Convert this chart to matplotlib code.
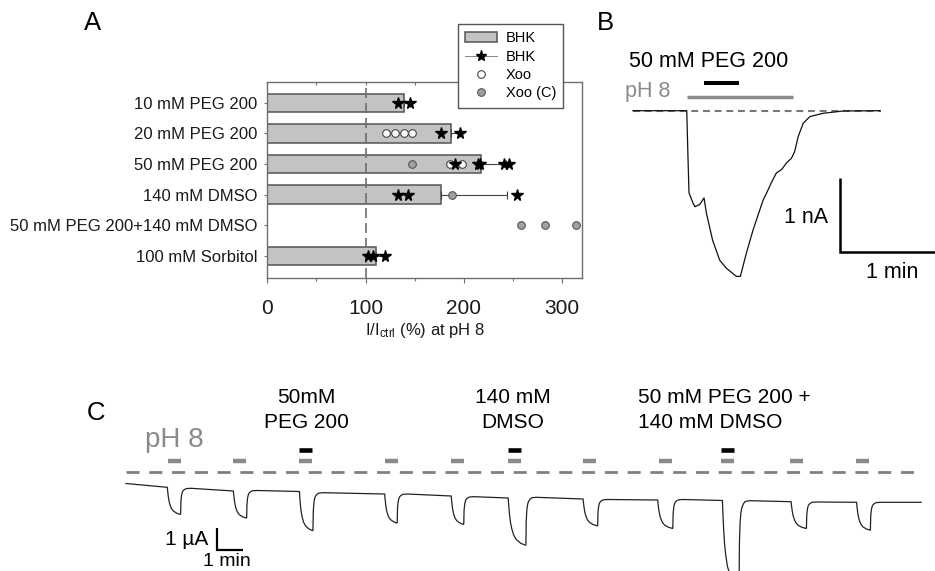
import numpy as np
import matplotlib.pyplot as plt
from matplotlib.lines import Line2D
from matplotlib.patches import Patch

plt.rcParams['font.family'] = ['Liberation Sans', 'DejaVu Sans']
plt.rcParams['mathtext.default'] = 'regular'

W, H = 935, 571  # figure size in pixels (dpi 100)

# ---------------- panel A data ----------------
conditions = ['10 mM PEG 200', '20 mM PEG 200', '50 mM PEG 200', '140 mM DMSO',
              '50 mM PEG 200+140 mM DMSO', '100 mM Sorbitol']
bhk_mean = [139, 186.5, 217.5, 176.5, None, 110.5]
bhk_err = [6, 10, 25, 67, None, 9]
bhk_pts = [[133.3, 145.2], [176.7, 196.0], [191.3, 214.0, 216.5, 240.8, 245.5],
           [133.3, 143.5, 253.7], [], [102.8, 107.9, 119.7]]
xoo_pts = [[], [120.7, 130.0, 139.0, 146.9], [185.9, 197.8], [], [], []]
xoo_c_pts = [[], [], [146.9], [187.6], [258.1, 282.5, 314.7], []]

# ---------------- panel B data (time s, current nA) ----------------
b_time = [0, 33.6, 34.4, 35.0, 37.5, 38.7, 41.7, 44.4, 45.9, 49.8, 54.2, 58.4, 64.6,
          67.1, 70.9, 75.0, 81.3, 84.0, 86.5, 89.6, 93.0, 96.0, 99.0, 101.0, 103.3,
          106.4, 110.6, 118.9, 131.4, 154.4]
b_current = [0, 0, -0.67, -1.12, -1.26, -1.31, -1.28, -1.19, -1.40, -1.77, -2.04, -2.15,
             -2.26, -2.26, -1.94, -1.63, -1.22, -1.10, -0.98, -0.85, -0.80, -0.71,
             -0.65, -0.56, -0.35, -0.17, -0.08, -0.035, -0.004, 0]
b_peg = (44.4, 66.4)
b_ph = (33.6, 99.8)

# ---------------- panel C data (time min, current uA) ----------------
c_ph_on = [1.61, 4.13, 6.67, 9.95, 12.51, 14.70, 17.58, 20.49, 22.89, 25.54, 28.08]
c_drug_idx = [2, 5, 8]
c_on = [1.59, 4.13, 6.67, 9.95, 12.51, 14.70, 17.58, 20.45, 22.94, 25.58, 28.10]
c_off = [2.10, 4.64, 7.19, 10.43, 12.99, 15.38, 18.14, 21.03, 23.58, 26.17, 28.63]
c_peak = [-1.96, -2.13, -2.71, -2.36, -2.42, -3.38, -2.49, -2.61, -5.22, -2.61, -2.69]
c_base_before = [-0.719, -0.889, -0.912, -1.028, -1.12, -1.212, -1.258, -1.304, -1.327,
                 -1.382, -1.41]
c_base_after = [-0.765, -0.866, -0.968, -1.028, -1.152, -1.18, -1.281, -1.281, -1.336,
                -1.396, -1.41]
c_start = (0.0, -0.544)
c_end = (30.58, -1.41)
# pulse shape read from the first pulse: (fraction of pulse, fraction of depth)
onset_shape = [(0.02, 0.12), (0.075, 0.35), (0.13, 0.52), (0.2, 0.65), (0.3, 0.78),
               (0.45, 0.88), (0.7, 0.96), (0.95, 1.0), (1.0, 1.0)]
# recovery after wash: (min after offset, fraction of depth)
recovery_shape = [(0.0, 1.0), (0.013, 0.5), (0.038, 0.26), (0.07, 0.14), (0.1, 0.09),
                  (0.16, 0.04), (0.23, 0.01), (0.4, 0.0)]
c_labels = [(['50mM', 'PEG 200'], 6.95, 'center'),
            (['140 mM', 'DMSO'], 14.88, 'center'),
            (['50 mM PEG 200 +', '140 mM DMSO'], 19.7, 'left')]

bar_face = '#c3c3c3'
bar_edge = '#555555'
grey = '#8a8a8a'

fig = plt.figure(figsize=(W / 100, H / 100), dpi=100)


def box(l, t, r, b):
    return [l / W, 1 - b / H, (r - l) / W, (b - t) / H]


# ================= A =================
ax = fig.add_axes(box(267.3, 81.7, 581.7, 278.3))
ax.set_xlim(0, 320)
ax.set_ylim(5.727, -0.685)
rows = np.arange(len(conditions))
for i in rows:
    if bhk_mean[i] is None:
        continue
    ax.barh(i, bhk_mean[i], height=0.6, color=bar_face, edgecolor=bar_edge, lw=1.1, zorder=2)
    ax.errorbar(bhk_mean[i], i, xerr=[[0], [bhk_err[i]]], fmt='none', ecolor='#444444',
                elinewidth=0.8, capsize=3, capthick=0.8, zorder=3)
ax.axvline(100, color='#6e6e6e', lw=1.2, ls=(0, (6, 3)), zorder=2.5)
for i in rows:
    if xoo_pts[i]:
        ax.plot(xoo_pts[i], [i] * len(xoo_pts[i]), 'o', ms=5.5, mfc='white', mec='#444444',
                mew=0.8, zorder=4)
    if xoo_c_pts[i]:
        ax.plot(xoo_c_pts[i], [i] * len(xoo_c_pts[i]), 'o', ms=5.5, mfc='#a0a0a0',
                mec='#555555', mew=0.8, zorder=4)
    if bhk_pts[i]:
        ax.plot(bhk_pts[i], [i] * len(bhk_pts[i]), '*', ms=8.5, color='black', zorder=5)

ax.set_yticks(rows)
ax.set_yticklabels(conditions, fontsize=12, color='#1a1a1a')
ax.set_xticks([0, 100, 200, 300])
ax.set_xticks([50, 150, 250], minor=True)
ax.tick_params(axis='x', which='major', length=3.6, width=0.8, color='#6e6e6e',
               labelsize=15, pad=11, labelcolor='#1a1a1a')
ax.tick_params(axis='x', which='minor', length=1.8, width=0.8, color='#6e6e6e')
ax.tick_params(axis='y', length=2, width=0.8, color='#6e6e6e', pad=5)
for s in ax.spines.values():
    s.set_color('#6e6e6e')
    s.set_linewidth(1.0)
top = ax.secondary_xaxis('top')
top.set_xticks([0, 50, 100, 150, 200, 250, 300])
top.tick_params(direction='in', length=2, width=0.8, color='#6e6e6e', labeltop=False)
top.spines['top'].set_visible(False)
fig.text(425 / W, 1 - 331 / H, r'I/I$_{ctrl}$ (%) at pH 8', fontsize=12,
         ha='center', va='center', color='#1a1a1a')

handles = [Patch(facecolor=bar_face, edgecolor=bar_edge, lw=1.1),
           Line2D([], [], color='#888888', lw=0.7, marker='*', ms=8, mfc='black', mec='black'),
           Line2D([], [], ls='none', marker='o', ms=5.5, mfc='white', mec='#444444', mew=0.8),
           Line2D([], [], ls='none', marker='o', ms=5.5, mfc='#a0a0a0', mec='#555555', mew=0.8)]
leg = ax.legend(handles, ['BHK', 'BHK', 'Xoo', 'Xoo (C)'], loc='upper left',
                bbox_to_anchor=(457.7 / W, 1 - 24 / H), bbox_transform=fig.transFigure,
                fontsize=10.5, frameon=True, fancybox=False, framealpha=1, edgecolor='#555555',
                borderaxespad=0, handlelength=2.2, handletextpad=0.6, labelspacing=0.3,
                borderpad=0.5, numpoints=1)
leg.get_frame().set_linewidth(1.0)
leg.set_zorder(10)

# ================= B =================
axb = fig.add_axes(box(620, 40, 935, 290))
axb.set_xlim(-8.125, 188.75)
axb.set_ylim(-2.4461, 0.9645)
axb.axis('off')
axb.plot([0, 155], [0, 0], color='#777777', lw=1.5, ls=(0, (3.3, 2.3)))
axb.plot(b_time, b_current, color='#111111', lw=0.9)
axb.plot(b_peg, [0.374, 0.374], color='black', lw=2.9, solid_capstyle='butt')
axb.plot(b_ph, [0.191, 0.191], color=grey, lw=2.5, solid_capstyle='butt')
axb.text(-2.5, 0.600, '50 mM PEG 200', fontsize=15.5, ha='left', va='baseline')
axb.text(-5.0, 0.183, 'pH 8', fontsize=15.5, ha='left', va='baseline', color=grey)
axb.plot([129.4, 129.4, 189.4], [-0.922, -1.924, -1.924], color='black', lw=1.8,
         solid_capstyle='butt', solid_joinstyle='miter', clip_on=False)
axb.text(121.9, -1.528, '1 nA', fontsize=15.5, ha='right', va='baseline')
axb.text(161.7, -2.287, '1 min', fontsize=15.5, ha='center', va='baseline')

# ================= C =================
axc = fig.add_axes(box(80, 380, 935, 571))
axc.set_xlim(-1.769, 31.115)
axc.set_ylim(-4.576, 4.226)
axc.axis('off')
axc.plot([0, c_end[0]], [0, 0], color='#808080', lw=2, ls=(0, (4.7, 3.5)))

t_list = [c_start[0]]
i_list = [c_start[1]]
for k in range(len(c_on)):
    on, off, peak = c_on[k], c_off[k], c_peak[k]
    b0, b1 = c_base_before[k], c_base_after[k]
    t_list.append(on)
    i_list.append(b0)
    for f, d in onset_shape:
        t_list.append(on + f * (off - on))
        i_list.append(b0 - d * (b0 - peak))
    for dt, d in recovery_shape:
        t_list.append(off + dt)
        i_list.append(b1 - d * (b1 - peak))
t_list.append(c_end[0])
i_list.append(c_end[1])
axc.plot(t_list, i_list, color='#222222', lw=0.9, clip_on=False)

for k, t0 in enumerate(c_ph_on):
    axc.plot([t0, t0 + 0.5], [0.493, 0.493], color=grey, lw=3.2, solid_capstyle='butt')
    if k in c_drug_idx:
        axc.plot([t0, t0 + 0.5], [1.0, 1.0], color='black', lw=3.3, solid_capstyle='butt')

for lines, x, ha in c_labels:
    axc.text(x, 3.18, lines[0], fontsize=15, ha=ha, va='baseline')
    axc.text(x, 2.03, lines[1], fontsize=15, ha=ha, va='baseline')
axc.text(0.73, 1.12, 'pH 8', fontsize=20, ha='left', va='baseline', color=grey)

axc.plot([3.488, 3.488, 4.488], [-2.608, -3.608, -3.608], color='black', lw=1.6,
         solid_capstyle='butt', solid_joinstyle='miter')
axc.text(3.165, -3.38, '1 µA', fontsize=15, ha='right', va='baseline')
axc.text(3.87, -4.33, '1 min', fontsize=14, ha='center', va='baseline', clip_on=False)

# panel letters
fig.text(93 / W, 1 - 23 / H, 'A', fontsize=18.5, ha='center', va='center')
fig.text(605.5 / W, 1 - 22.5 / H, 'B', fontsize=18.5, ha='center', va='center')
fig.text(96 / W, 1 - 413 / H, 'C', fontsize=18.5, ha='center', va='center')

fig.savefig('out.png', dpi=100)
